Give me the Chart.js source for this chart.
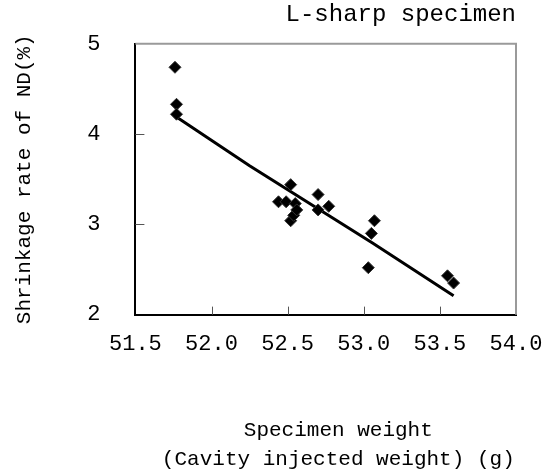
<!DOCTYPE html>
<html>
<head>
<meta charset="utf-8">
<script src="https://cdn.jsdelivr.net/npm/chart.js@4/dist/chart.umd.min.js"></script>
<style>
  html, body { margin: 0; padding: 0; background: #fff; }
  #wrap { width: 554px; height: 474px; }
</style>
</head>
<body>
<div id="wrap"><canvas id="chart"></canvas></div>
<script>
// Measured specimens
const weights = [51.76, 51.77, 51.77, 52.44, 52.49, 52.52, 52.52, 52.54, 52.55, 52.56, 52.70, 52.70, 52.77, 53.03, 53.05, 53.07, 53.55, 53.59];
const shrinkage = [4.74, 4.33, 4.22, 3.25, 3.25, 3.44, 3.04, 3.10, 3.23, 3.16, 3.33, 3.16, 3.20, 2.52, 2.90, 3.04, 2.43, 2.35];

// Trend line
const trendWeights = [51.77, 52.25, 53.06, 53.59];
const trendShrinkage = [4.19, 3.65, 2.79, 2.21];

const xTicks = [51.5, 52.0, 52.5, 53.0, 53.5, 54.0];
const yTicks = [2, 3, 4, 5];

const FONT = "'Liberation Mono', 'DejaVu Sans Mono', monospace";

// inward tick marks + grey top/right frame
const framePlugin = {
    id: 'frame',
    afterDatasetsDraw(chart) {
        const { ctx, chartArea: a, scales } = chart;
        ctx.save();
        ctx.strokeStyle = '#555';
        ctx.lineWidth = 1;
        ctx.beginPath();
        xTicks.slice(1, -1).forEach(v => {
            const px = Math.round(scales.x.getPixelForValue(v)) + 0.5;
            ctx.moveTo(px, a.bottom);
            ctx.lineTo(px, a.bottom - 8);
        });
        yTicks.slice(1, -1).forEach(v => {
            const py = Math.round(scales.y.getPixelForValue(v)) + 0.5;
            ctx.moveTo(a.left, py);
            ctx.lineTo(a.left + 9, py);
        });
        ctx.stroke();

        ctx.strokeStyle = '#9a9a9a';
        ctx.lineWidth = 2;
        ctx.beginPath();
        ctx.moveTo(a.left, a.top);
        ctx.lineTo(a.right, a.top);
        ctx.lineTo(a.right, a.bottom);
        ctx.stroke();
        ctx.restore();
    }
};

new Chart(document.getElementById('chart'), {
    type: 'scatter',
    data: {
        datasets: [
            {
                label: 'Specimens',
                data: weights.map((w, i) => ({ x: w, y: shrinkage[i] })),
                pointStyle: 'rectRot',
                pointRadius: 6,
                pointHoverRadius: 6,
                backgroundColor: '#000',
                borderColor: '#333',
                borderWidth: 1
            },
            {
                type: 'line',
                label: 'Trend',
                data: trendWeights.map((w, i) => ({ x: w, y: trendShrinkage[i] })),
                borderColor: '#000',
                borderWidth: 3,
                pointRadius: 0,
                fill: false,
                tension: 0
            }
        ]
    },
    options: {
        responsive: true,
        maintainAspectRatio: false,
        animation: false,
        layout: { padding: { top: 0, right: 38, left: 0, bottom: 0 } },
        plugins: {
            legend: { display: false },
            tooltip: { enabled: false },
            title: {
                display: true,
                text: 'L-sharp specimen',
                align: 'end',
                color: '#000',
                font: { family: FONT, size: 24, weight: 'normal' },
                padding: { top: 0, bottom: 15 }
            }
        },
        scales: {
            x: {
                type: 'linear',
                min: 51.5,
                max: 54,
                afterBuildTicks: s => { s.ticks = xTicks.map(v => ({ value: v })); },
                afterFit: s => { s.paddingRight = 20; },
                ticks: {
                    color: '#000',
                    font: { family: FONT, size: 22 },
                    padding: 16,
                    maxRotation: 0,
                    callback: v => Number(v).toFixed(1)
                },
                grid: { drawOnChartArea: false, drawTicks: false },
                border: { color: '#000', width: 2 },
                title: {
                    display: true,
                    text: ['  Specimen weight', '  (Cavity injected weight) (g)'],
                    color: '#000',
                    font: { family: FONT, size: 21, lineHeight: 1.38 },
                    padding: { top: 43, bottom: 0 }
                }
            },
            y: {
                type: 'linear',
                min: 2,
                max: 5,
                afterBuildTicks: s => { s.ticks = yTicks.map(v => ({ value: v })); },
                afterFit: s => { s.paddingTop = 0; },
                ticks: {
                    color: '#000',
                    font: { family: FONT, size: 22 },
                    padding: 35
                },
                grid: { drawOnChartArea: false, drawTicks: false },
                border: { color: '#000', width: 2 },
                title: {
                    display: true,
                    text: 'Shrinkage rate of ND(%)',
                    color: '#000',
                    font: { family: FONT, size: 21 },
                    padding: { top: 12, bottom: 15 }
                }
            }
        }
    },
    plugins: [framePlugin]
});
</script>
</body>
</html>
